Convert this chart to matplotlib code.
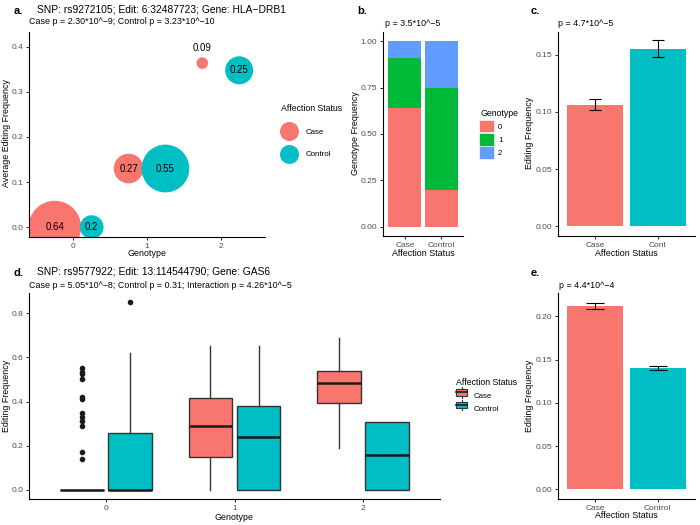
import numpy as np
import matplotlib.pyplot as plt
from matplotlib.lines import Line2D
from matplotlib.patches import Patch, Rectangle
from matplotlib.legend_handler import HandlerBase

plt.rcParams['font.family'] = ['Liberation Sans', 'DejaVu Sans']

W, H = 700, 525
CASE, CTRL = '#F8766D', '#00BFC4'
GENO_COLS = ['#F8766D', '#00BA38', '#619CFF']

# ---- data ----
genotypes = [0, 1, 2]
status = ['Case', 'Control']

# panel a: mean editing per genotype, bubble = genotype proportion
a_case_freq = [0.0, 0.13, 0.364]
a_ctrl_freq = [0.0, 0.13, 0.348]
a_case_prop = [0.64, 0.27, 0.09]
a_ctrl_prop = [0.20, 0.55, 0.25]

# panel b: genotype frequency by status
b_case = [0.64, 0.27, 0.09]
b_ctrl = [0.20, 0.55, 0.25]

# panel c
c_labels = ['Case', 'Cont']
c_mean = [0.1065, 0.1553]
c_err = [0.0045, 0.0073]

# panel d: boxplot stats per genotype
d_case_lo = [0.0, 0.0, 0.19]
d_case_q1 = [0.0, 0.15, 0.393]
d_case_med = [0.0, 0.29, 0.485]
d_case_q3 = [0.0, 0.415, 0.539]
d_case_hi = [0.0, 0.65, 0.69]
d_case_out = [[0.14, 0.17, 0.29, 0.31, 0.33, 0.35, 0.413, 0.42, 0.50, 0.523, 0.533, 0.552], [], []]
d_ctrl_lo = [0.0, 0.0, 0.0]
d_ctrl_q1 = [0.0, 0.0, 0.0]
d_ctrl_med = [0.0, 0.24, 0.155]
d_ctrl_q3 = [0.255, 0.38, 0.307]
d_ctrl_hi = [0.62, 0.65, 0.307]
d_ctrl_out = [[0.85], [], []]

# panel e
e_labels = ['Case', 'Control']
e_mean = [0.212, 0.140]
e_err = [0.0032, 0.0022]

fig = plt.figure(figsize=(7, 5.25), dpi=100)

TITLE, SUB, LAB, TICK = 7.4, 6.4, 6.4, 6


def add_ax(l, t, r, b):
    ax = fig.add_axes([l / W, 1 - b / H, (r - l) / W, (b - t) / H])
    for s in ['top', 'right']:
        ax.spines[s].set_visible(False)
    for s in ['left', 'bottom']:
        ax.spines[s].set_linewidth(0.8)
    ax.tick_params(length=2.5, width=0.6, labelsize=TICK, labelcolor='#4D4D4D', pad=1.5)
    return ax


def ftext(x, y, s, **kw):
    kw.setdefault('ha', 'left')
    kw.setdefault('va', 'center')
    fig.text(x / W, 1 - y / H, s, **kw)


def diam(v):
    # bubble diameter in points from proportion
    return (82 * np.sqrt(v) - 13) * 72 / 100


leg_kw = dict(bbox_transform=fig.transFigure, frameon=False, fontsize=5.7, title_fontsize=6.3,
              borderaxespad=0, alignment='left', loc='upper left')

# ---- panel a ----
ax = add_ax(29, 32, 265, 237)
xs = np.array(genotypes)
ax.scatter(xs - 0.25, a_case_freq, s=[diam(v) ** 2 for v in a_case_prop], c=CASE, linewidths=0, zorder=2)
ax.scatter(xs + 0.25, a_ctrl_freq, s=[diam(v) ** 2 for v in a_ctrl_prop], c=CTRL, linewidths=0, zorder=2)
for x, y, v in zip(xs - 0.25, a_case_freq, a_case_prop):
    if v < 0.1:
        ax.annotate(f'{v:g}', (x, y), xytext=(x, y + 0.034), ha='center', va='center', fontsize=7,
                    arrowprops=dict(arrowstyle='-', color='#999999', lw=0.6, shrinkA=3, shrinkB=4))
    else:
        ax.text(x, y, f'{v:g}', ha='center', va='center', fontsize=7, zorder=3)
for x, y, v in zip(xs + 0.25, a_ctrl_freq, a_ctrl_prop):
    ax.text(x, y, f'{v:g}', ha='center', va='center', fontsize=7, zorder=3)
ax.set_xlim(-0.6, 2.6)
ax.set_ylim(-0.022, 0.433)
ax.set_xticks(genotypes)
ax.set_yticks([0, 0.1, 0.2, 0.3, 0.4])
ax.set_yticklabels(['0.0', '0.1', '0.2', '0.3', '0.4'])
ftext(147, 254, 'Genotype', ha='center', fontsize=LAB)
ftext(7, 133, 'Average Editing Frequency', ha='center', rotation=90, fontsize=LAB)
ftext(14, 11, 'a.', fontsize=8, fontweight='bold')
ftext(37, 10, 'SNP: rs9272105; Edit: 6:32487723; Gene: HLA\u2212DRB1', fontsize=TITLE)
ftext(29, 22, 'Case p = 2.30*10^\u22129; Control p = 3.23*10^\u221210', fontsize=SUB)
hs = [Line2D([], [], marker='o', ls='', color=c, markersize=19 * 0.72, markeredgewidth=0) for c in [CASE, CTRL]]
ax.legend(hs, status, title='Affection Status', bbox_to_anchor=(278 / W, 1 - 101 / H),
          labelspacing=1.9, handletextpad=1.1, **leg_kw)

# ---- panel b ----
ax = add_ax(383, 32, 463, 236)
pos = [1, 2]
bottoms = [0.0, 0.0]
for g in genotypes:
    vals = [b_case[g], b_ctrl[g]]
    ax.bar(pos, vals, width=0.9, bottom=bottoms, color=GENO_COLS[g], label=str(g))
    bottoms = [bt + v for bt, v in zip(bottoms, vals)]
ax.set_xlim(0.4, 2.6)
ax.set_ylim(-0.05, 1.05)
ax.set_xticks(pos)
ax.set_xticklabels(status)
ax.set_yticks([0, 0.25, 0.5, 0.75, 1.0])
ax.set_yticklabels(['0.00', '0.25', '0.50', '0.75', '1.00'])
ftext(423, 254, 'Affection Status', ha='center', fontsize=LAB)
ftext(355, 133, 'Genotype Frequency', ha='center', rotation=90, fontsize=LAB)
ftext(357, 11, 'b.', fontsize=8, fontweight='bold')
ftext(385, 23, 'p = 3.5*10^\u22125', fontsize=SUB)
hs = [Patch(color=c) for c in GENO_COLS]
ax.legend(hs, ['0', '1', '2'], title='Genotype', bbox_to_anchor=(477 / W, 1 - 106 / H),
          labelspacing=0.3, handlelength=1.65, handleheight=1.75, handletextpad=0.6, **leg_kw)

# ---- panel c ----
ax = add_ax(558, 32, 695, 236)
ax.bar(pos, c_mean, width=0.9, color=[CASE, CTRL])
ax.errorbar(pos, c_mean, yerr=c_err, fmt='none', ecolor='black', elinewidth=0.8, capsize=4.5, capthick=0.8)
ax.set_xlim(0.4, 2.6)
ax.set_ylim(-0.0085, 0.170)
ax.set_xticks(pos)
ax.set_xticklabels(c_labels)
ax.set_yticks([0, 0.05, 0.10, 0.15])
ax.set_yticklabels(['0.00', '0.05', '0.10', '0.15'])
ftext(626, 254, 'Affection Status', ha='center', fontsize=LAB)
ftext(530, 133, 'Editing Frequency', ha='center', rotation=90, fontsize=LAB)
ftext(531, 11, 'c.', fontsize=8, fontweight='bold')
ftext(558, 23, 'p = 4.7*10^\u22125', fontsize=SUB)

# ---- panel d ----
ax = add_ax(29, 293, 440, 499)


def stats(lo, q1, med, q3, hi, out):
    return [dict(whislo=a, q1=b, med=c, q3=d, whishi=e, fliers=f)
            for a, b, c, d, e, f in zip(lo, q1, med, q3, hi, out)]


for st, off, col in [(stats(d_case_lo, d_case_q1, d_case_med, d_case_q3, d_case_hi, d_case_out), -0.1875, CASE),
                     (stats(d_ctrl_lo, d_ctrl_q1, d_ctrl_med, d_ctrl_q3, d_ctrl_hi, d_ctrl_out), 0.1875, CTRL)]:
    ax.bxp(st, positions=xs + off, widths=0.3375, patch_artist=True, showcaps=False,
           boxprops=dict(facecolor=col, edgecolor='#333333', linewidth=1.0),
           medianprops=dict(color='#1a1a1a', linewidth=1.8),
           whiskerprops=dict(color='#333333', linewidth=1.0),
           flierprops=dict(marker='o', markerfacecolor='#1a1a1a', markeredgecolor='#1a1a1a', markersize=3))
ax.set_xlim(-0.6, 2.6)
ax.set_ylim(-0.0425, 0.8925)
ax.set_xticks(genotypes)
ax.set_xticklabels(['0', '1', '2'])
ax.set_yticks([0, 0.2, 0.4, 0.6, 0.8])
ax.set_yticklabels(['0.0', '0.2', '0.4', '0.6', '0.8'])
ftext(234, 517, 'Genotype', ha='center', fontsize=LAB)
ftext(7, 396, 'Editing Frequency', ha='center', rotation=90, fontsize=LAB)
ftext(14, 273, 'd.', fontsize=8, fontweight='bold')
ftext(37, 271, 'SNP: rs9577922; Edit: 13:114544790; Gene: GAS6', fontsize=TITLE)
ftext(29, 285, 'Case p = 5.05*10^\u22128; Control p = 0.31; Interaction p = 4.26*10^\u22125', fontsize=SUB)


class BoxHandler(HandlerBase):
    def create_artists(self, legend, orig, xd, yd, w, h, fontsize, trans):
        fc = orig.get_facecolor()
        cx = xd + w / 2
        art = [Line2D([cx, cx], [yd - 0.15 * h, yd + 1.15 * h], color='#333333', lw=0.8, transform=trans),
               Rectangle((xd, yd + 0.1 * h), w, 0.8 * h, facecolor=fc, edgecolor='#333333', lw=0.8, transform=trans),
               Line2D([xd, xd + w], [yd + 0.5 * h] * 2, color='#1a1a1a', lw=1.2, transform=trans)]
        return art


hs = [Patch(facecolor=c) for c in [CASE, CTRL]]
ax.legend(hs, status, title='Affection Status', bbox_to_anchor=(453 / W, 1 - 375 / H),
          labelspacing=0.5, handlelength=1.4, handleheight=1.2, handletextpad=0.8,
          handler_map={Patch: BoxHandler()}, **leg_kw)

# ---- panel e ----
ax = add_ax(558, 293, 695, 499)
ax.bar(pos, e_mean, width=0.9, color=[CASE, CTRL])
ax.errorbar(pos, e_mean, yerr=e_err, fmt='none', ecolor='black', elinewidth=0.8, capsize=6.5, capthick=0.8)
ax.set_xlim(0.4, 2.6)
ax.set_ylim(-0.0113, 0.227)
ax.set_xticks(pos)
ax.set_xticklabels(e_labels)
ax.set_yticks([0, 0.05, 0.10, 0.15, 0.20])
ax.set_yticklabels(['0.00', '0.05', '0.10', '0.15', '0.20'])
ftext(626, 516, 'Affection Status', ha='center', fontsize=LAB)
ftext(530, 396, 'Editing Frequency', ha='center', rotation=90, fontsize=LAB)
ftext(531, 273, 'e.', fontsize=8, fontweight='bold')
ftext(559, 285, 'p = 4.4*10^\u22124', fontsize=SUB)

fig.savefig('out.png', dpi=100)
